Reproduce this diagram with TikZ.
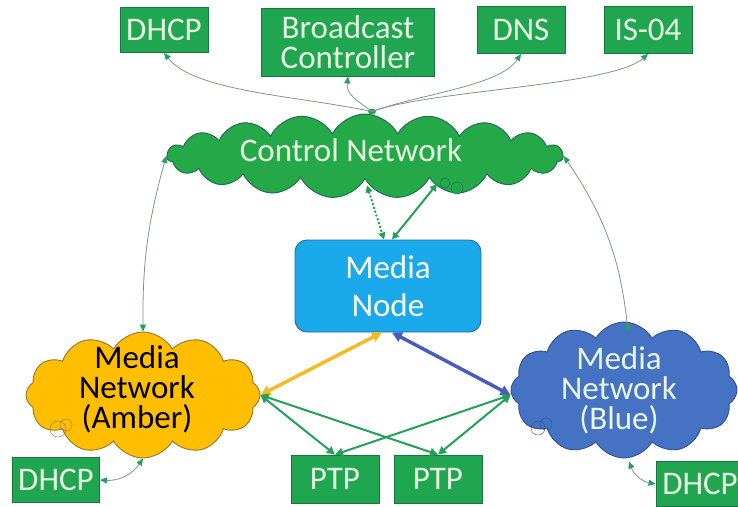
\documentclass[tikz,border=0pt]{standalone}
\usepackage{fontspec}
\setmainfont{Carlito}
\usetikzlibrary{shapes.symbols, positioning, calc, arrows.meta}
\definecolor{boxverde}{RGB}{32,166,80}
\definecolor{bordoverde}{RGB}{22,118,62}
\definecolor{testoverde}{RGB}{232,246,226}
\definecolor{nuvolaverde}{RGB}{36,168,72}
\definecolor{bordonuvola}{RGB}{30,105,80}
\definecolor{ambra}{RGB}{255,190,0}
\definecolor{bordoambra}{RGB}{150,118,40}
\definecolor{blu}{RGB}{70,114,196}
\definecolor{bordoblu}{RGB}{48,78,150}
\definecolor{azzurro}{RGB}{26,170,235}
\definecolor{bordoazzurro}{RGB}{40,105,165}
\definecolor{grigiofilo}{RGB}{125,150,132}
\definecolor{puntaverde}{RGB}{36,160,88}
\definecolor{filoambra}{RGB}{245,186,40}
\definecolor{filoblu}{RGB}{72,92,190}

\begin{document}
\begin{tikzpicture}[x=1pt,y=-1pt,
    servizio/.style={draw=bordoverde, fill=boxverde, text=testoverde, line width=0.8pt, inner sep=0pt, align=center, font=\fontsize{33}{30}\selectfont},
    nuvola/.style={cloud, cloud puffs=12, cloud puff arc=120, cloud ignores aspect, line width=0.9pt, inner sep=0pt},
    etichetta/.style={align=center, font=\fontsize{33}{30}\selectfont},
    filo/.style={draw=grigiofilo, line width=0.8pt, >={Triangle[length=7pt,width=6pt,color=puntaverde]}},
    ptplink/.style={draw=puntaverde, line width=2pt, >={Triangle[length=8pt,width=8pt]}, <->}
  ]
  \useasboundingbox (0,0) rectangle (738,506);
  %box servizi in alto
  \node[servizio, minimum width=88pt, minimum height=45pt] (dhcpTop) at (164,30) {DHCP};
  \node[servizio, minimum width=173pt, minimum height=68pt] (bcast) at (348,42) {Broadcast\\Controller};
  \node[servizio, minimum width=88pt, minimum height=47pt] (dns) at (521,30) {DNS};
  \node[servizio, minimum width=88pt, minimum height=47pt] (isfour) at (648,30) {IS-04};
  %nuvole
  \node[nuvola, cloud puffs=19, cloud puff arc=125, fill=nuvolaverde, draw=bordonuvola, minimum width=396pt, minimum height=84pt] (ctrl) at (365,156) {};
  \draw[bordonuvola, fill=nuvolaverde] (445,183) circle (5) (457,188) circle (6);
  \node[etichetta, text=testoverde] (ctrllbl) at (351,150) {Control Network};
  \node[nuvola, fill=ambra, draw=bordoambra, minimum width=234pt, minimum height=126pt] (amber) at (143,395) {};
  \draw[bordoambra] (58,429) circle (8) (66,425) circle (6);
  \node[etichetta, text=black] (amberlbl) at (137,389) {Media\\Network\\(Amber)};
  \node[nuvola, fill=blu, draw=bordoblu, minimum width=226pt, minimum height=136pt] (blue) at (624,390) {};
  \draw[bordoblu] (538,428) circle (7) (546,424) circle (6);
  \node[etichetta, text=testoverde] (bluelbl) at (619,390) {Media\\Network\\(Blue)};
  %nodo media
  \node[draw=bordoazzurro, fill=azzurro, line width=0.9pt, rounded corners=12pt, minimum width=186pt, minimum height=92pt, text=white, font=\fontsize{33}{38}\selectfont, align=center] (medianode) at (388,286) {Media\\Node};
  %box in basso
  \node[servizio, minimum width=88pt, minimum height=48pt] (ptpA) at (335,479) {PTP};
  \node[servizio, minimum width=88pt, minimum height=48pt] (ptpB) at (438,479) {PTP};
  \node[servizio, minimum width=87pt, minimum height=45pt] (dhcpL) at (56,480) {DHCP};
  \node[servizio, minimum width=88pt, minimum height=45pt] (dhcpR) at (700,484) {DHCP};
  %collegamenti rete di controllo
  \coordinate (hub) at ($(ctrl.north)+(7,-2)$);
  \fill[puntaverde] (hub) ellipse (4 and 3);
  \draw[filo, ->] (hub) .. controls (300,96) and (195,92) .. (dhcpTop.south);
  \draw[filo, ->] (hub) .. controls (356,100) and (346,94) .. (bcast.south);
  \draw[filo, ->] (hub) .. controls (420,94) and (500,86) .. (dns.south);
  \draw[filo, ->] (hub) .. controls (430,90) and (612,86) .. (isfour.south);
  \draw[filo, <->] (ctrl.west) to[bend right=8] (amber.north);
  \draw[filo, <->] (ctrl.east) to[bend left=14] ($(blue.north)+(4,10)$);
  \draw[puntaverde, line width=2pt, >={Triangle[length=7pt,width=7pt]}, <->] ($(ctrl.center)+(72,28)$) -- ([xshift=4pt]medianode.north);
  \draw[puntaverde, line width=2pt, dotted, >={Triangle[length=7pt,width=7pt]}, <->] ($(ctrl.south)+(2,6)$) -- ([xshift=-4pt]medianode.north);
  %collegamenti rete media
  \draw[filoambra, line width=3.5pt, >={Triangle[length=10pt,width=10pt]}, <->] ([xshift=-6pt]medianode.south) -- (amber.east);
  \draw[filoblu, line width=3.5pt, >={Triangle[length=10pt,width=10pt]}, <->] ([xshift=4pt]medianode.south) -- ($(blue.west)+(0,5)$);
  \draw[ptplink] (amber.east) -- (ptpA.north);
  \draw[ptplink] (amber.east) -- (ptpB.north);
  \draw[ptplink] ($(blue.west)+(0,5)$) -- (ptpA.north);
  \draw[ptplink] ($(blue.west)+(0,5)$) -- (ptpB.north);
  \draw[filo, <->] (dhcpL.east) to[bend right=30] (amber.south);
  \draw[filo, <->] ($(blue.south)+(5,3)$) to[bend right=30] (dhcpR.west);
\end{tikzpicture}
\end{document}
